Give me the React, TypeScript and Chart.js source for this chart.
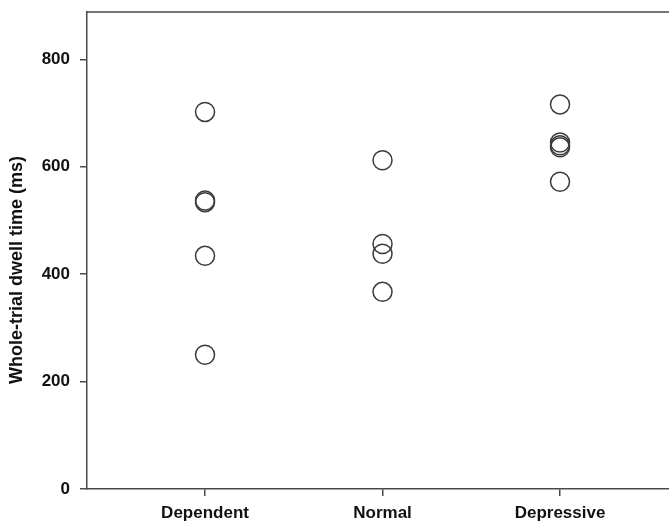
import { useEffect, useRef } from 'react';
import { Chart, registerables } from 'chart.js';

Chart.register(...registerables);

const categories = ['Dependent', 'Normal', 'Depressive'];
const dependentValues = [702, 537, 534, 434, 250];
const normalValues = [612, 456, 438, 367];
const depressiveValues = [716, 645, 640, 636, 572];
const yTicks = [0, 200, 400, 600, 800];
const yTitle = 'Whole-trial dwell time (ms)';

const AXIS_COLOR = '#4a4a4a';
const TEXT_COLOR = '#111111';
const FONT_FAMILY = '"Liberation Sans", Arial, Helvetica, sans-serif';

const framePlugin = {
  id: 'frame',
  afterDraw(chart: any) {
    const { ctx, chartArea } = chart;
    ctx.save();
    ctx.strokeStyle = AXIS_COLOR;
    ctx.lineWidth = 1.5;
    ctx.beginPath();
    ctx.moveTo(chartArea.left, chartArea.top);
    ctx.lineTo(chart.width, chartArea.top);
    ctx.stroke();
    ctx.translate(17, 270);
    ctx.rotate(-Math.PI / 2);
    ctx.font = `bold 18px ${FONT_FAMILY}`;
    ctx.fillStyle = TEXT_COLOR;
    ctx.textAlign = 'center';
    ctx.textBaseline = 'middle';
    ctx.fillText(yTitle, 0, 0);
    ctx.restore();
  },
};

const zeroPadding = (scale: any) => {
  scale.paddingLeft = 0;
  scale.paddingRight = 0;
  scale.paddingTop = 0;
  scale.paddingBottom = 0;
};

export default function App() {
  const canvasRef = useRef<HTMLCanvasElement | null>(null);

  useEffect(() => {
    if (!canvasRef.current) return;
    const groups = [dependentValues, normalValues, depressiveValues];
    const data = groups.flatMap((vals, i) => vals.map((v) => ({ x: i + 1, y: v })));
    const chart = new Chart(canvasRef.current, {
      type: 'scatter',
      data: {
        datasets: [
          {
            data,
            pointStyle: 'circle',
            pointRadius: 9.5,
            pointHoverRadius: 9.5,
            pointBorderWidth: 1.5,
            pointBorderColor: '#3a3a3a',
            pointBackgroundColor: 'rgba(0,0,0,0)',
          },
        ],
      },
      options: {
        animation: false,
        responsive: false,
        layout: { autoPadding: false, padding: { top: 12, right: 0, bottom: 0, left: 0 } },
        plugins: { legend: { display: false }, tooltip: { enabled: false } },
        scales: {
          x: {
            type: 'linear',
            min: 0.335,
            max: 3.614,
            afterBuildTicks: (scale: any) => {
              scale.ticks = categories.map((_, i) => ({ value: i + 1 }));
            },
            afterFit: (scale: any) => {
              scale.height = 33;
              zeroPadding(scale);
            },
            ticks: {
              autoSkip: false,
              maxRotation: 0,
              padding: 7,
              color: TEXT_COLOR,
              font: { family: FONT_FAMILY, size: 17, weight: 'bold' },
              callback: (v: any) => categories[Number(v) - 1] ?? '',
            },
            grid: {
              display: true,
              drawOnChartArea: false,
              drawTicks: true,
              tickLength: 7,
              color: AXIS_COLOR,
              lineWidth: 1.5,
            },
            border: { display: true, color: AXIS_COLOR, width: 1.5 },
          },
          y: {
            type: 'linear',
            min: 0,
            max: 888,
            afterBuildTicks: (scale: any) => {
              scale.ticks = yTicks.map((v) => ({ value: v }));
            },
            afterFit: (scale: any) => {
              scale.width = 87;
              zeroPadding(scale);
            },
            ticks: {
              padding: 10,
              color: TEXT_COLOR,
              font: { family: FONT_FAMILY, size: 17, weight: 'bold' },
            },
            grid: {
              display: true,
              drawOnChartArea: false,
              drawTicks: true,
              tickLength: 7,
              color: AXIS_COLOR,
              lineWidth: 1.5,
            },
            border: { display: true, color: AXIS_COLOR, width: 1.5 },
          },
        },
      },
      plugins: [framePlugin],
    });
    return () => chart.destroy();
  }, []);

  return (
    <div style={{ position: 'fixed', left: 0, top: 0, width: 669, height: 522, background: '#fff' }}>
      <canvas ref={canvasRef} width={669} height={522} style={{ display: 'block' }} />
    </div>
  );
}
